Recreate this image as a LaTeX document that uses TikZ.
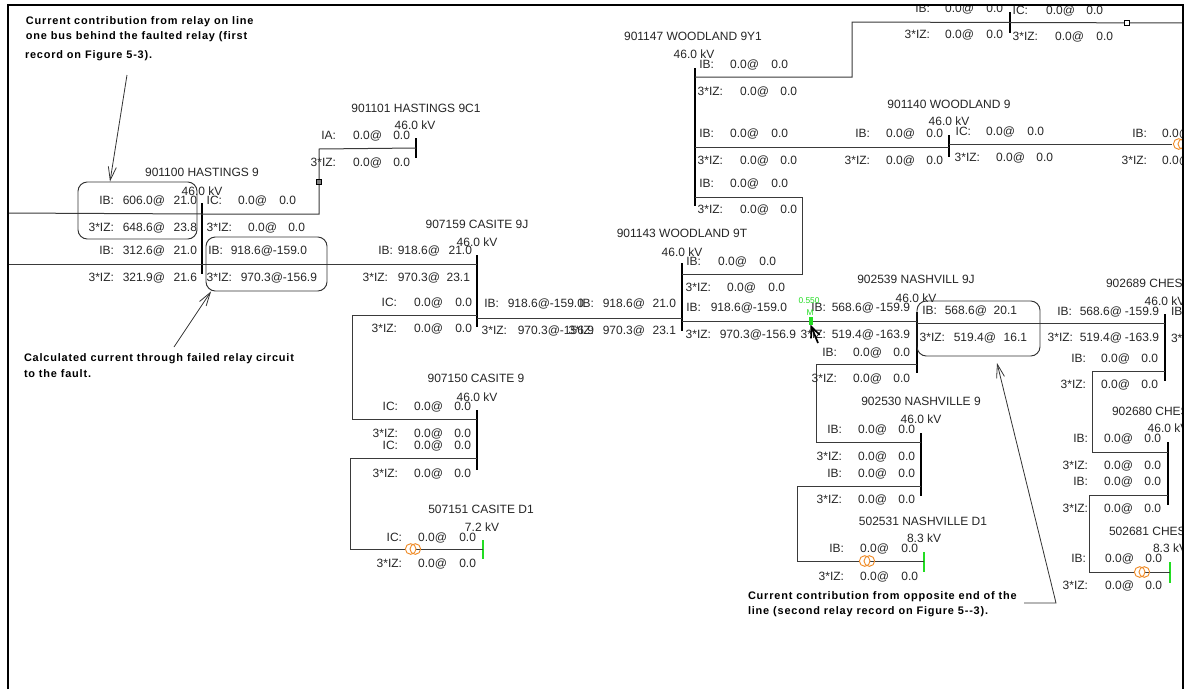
\documentclass[tikz,border=0pt]{standalone}
\usepackage{fontspec}
\setmainfont{Liberation Sans}
\newfontfamily\notefont[LetterSpace=7.5]{Liberation Sans Bold}
\usetikzlibrary{arrows.meta}
\definecolor{ink}{HTML}{262626}
\definecolor{wirec}{HTML}{3A3A3A}
\definecolor{xfo}{HTML}{F08C28}
\definecolor{gbus}{HTML}{22DD22}
\newcount\rn
\tikzset{
 x=0.75pt,y=-0.75pt,
 txt/.style={inner sep=0pt,outer sep=0pt,text=ink,font=\fontsize{9}{10}\selectfont},
 note/.style={inner sep=0pt,outer sep=0pt,anchor=base west,text=black,font=\notefont\fontsize{8.2}{9}\selectfont},
 wire/.style={draw=wirec,line width=0.75pt},
 busbar/.style={draw=none,fill=black,inner sep=0pt,outer sep=0pt,minimum width=1.9pt},
 gbar/.style={draw=none,fill=gbus,inner sep=0pt,outer sep=0pt,minimum width=1pt},
 callout/.style={draw=black!80,line width=0.7pt,rounded corners=7pt},
 pointer/.style={draw=black!80,line width=0.6pt,-{Straight Barb[length=10pt,width=6pt]}},
 xring/.style={draw=xfo,fill=white,line width=0.7pt,circle,inner sep=0pt,minimum size=8pt},
 square/.style={draw=black,fill=white,line width=0.6pt,inner sep=0pt,minimum size=3.6pt},
}
\newcommand\Row[7]{%
 \global\advance\rn by 1
 \node[txt,anchor=base east,name=r\the\rn a] at (#1,{#4+4.3}) {#5};
 \node[txt,anchor=base east,name=r\the\rn b] at (#2,{#4+4.3}) {#6};
 \node[txt,anchor=base east,name=r\the\rn c] at (#3,{#4+4.3}) {#7};}
\newcommand\Ttl[4]{\node[txt,anchor=base,name=#1] at (#2,{#3+4.3}) {#4};}
\newcommand\TtlL[4]{\node[txt,anchor=base west,name=#1] at (#2,{#3+4.3}) {#4};}
\newcommand\Bus[4]{\node[busbar,minimum height={(#4-#3)*0.75pt},name=#1] at (#2,{(#3+#4)/2}) {};}
\newcommand\GBus[4]{\node[gbar,minimum height={(#4-#3)*0.75pt},name=#1] at (#2,{(#3+#4)/2}) {};}
\newcommand\Xfo[3]{\node[xring,name=#1a] at ({#2-2.3},#3) {};\node[xring,fill=none,name=#1b] at ({#2+2.3},#3) {};}
\begin{document}
\begin{tikzpicture}
\useasboundingbox (0,0) rectangle (1184,689);
\fill[white] (0,0) rectangle (1184,689);
\begin{scope}
\clip (8,6) rectangle (1183,689);
% free ends
\coordinate (L1) at (8,213);
\coordinate (L2) at (8,264);
\coordinate (R1) at (1184,23);
% buses
\Bus{b100}{202}{203}{274}
\Bus{b101}{416}{138}{158}
\Bus{b159}{477}{255}{327}
\Bus{b150}{477}{410}{470}
\GBus{b151}{483}{540}{559}
\Bus{b147}{695}{68}{206}
\Bus{b143}{682}{263}{331}
\Bus{btop}{1010}{12}{33}
\Bus{b140}{949}{135}{157}
\Bus{b539}{917}{312}{373}
\Bus{b530}{921}{433}{496}
\GBus{b531}{924}{552}{572}
\Bus{b689}{1165}{314}{381}
\Bus{b680}{1168}{442}{505}
\GBus{b681}{1170}{562}{583}
% wires
\draw[wire] (L1) -- (202,214) -- (319,214) -- (319,149) -- (b101.center);
\draw[wire] (L2) -- (b159.center |- L2);
\draw[wire] (b159.center |- 0,315) -- (352,315) -- (352,419) -- (b150.center |- 0,419);
\draw[wire] (b150.center |- 0,458) -- (350,458) -- (350,549) -- (b151.center |- 0,549);
\draw[wire] (b159.center |- 0,318) -- (b143.center |- 0,318);
\draw[wire] (b143.center |- 0,321) -- (b539.center |- 0,321);
\draw[wire] (b143.center |- 0,274) -- (802,274) -- (802,197) -- (b147.center |- 0,197);
\draw[wire] (b147.center |- 0,77) -- (852,77) -- (852,22) -- (btop.center);
\draw[wire] (btop.center) -- (R1);
\draw[wire] (b147.center |- 0,147) -- (b140.center |- 0,147);
\draw[wire] (b140.center |- 0,144) -- (1172,144);
\draw[wire] (b539.center |- 0,323) -- (b689.center |- 0,323);
\draw[wire] (b539.center |- 0,364) -- (816,364) -- (816,442) -- (b530.center |- 0,442);
\draw[wire] (b530.center |- 0,486) -- (797,486) -- (797,561) -- (b531.center |- 0,561);
\draw[wire] (b689.center |- 0,371) -- (1092,371) -- (1092,452) -- (b680.center |- 0,452);
\draw[wire] (b680.center |- 0,495) -- (1089,495) -- (1089,572) -- (b681.center |- 0,572);
% small devices
\node[square,fill=black!50,name=s1] at (319,182) {};
\node[square,name=s2] at (1127,23) {};
\Xfo{x1}{413}{549}
\Xfo{x2}{867}{561}
\Xfo{x3}{1142}{572}
\Xfo{x4}{1181}{144}
% titles
\Ttl{t100}{202}{172}{901100 HASTINGS 9}
\Ttl{k100}{202}{191}{46.0 kV}
\Ttl{t101}{416}{108}{901101 HASTINGS 9C1}
\Ttl{k101}{415}{125}{46.0 kV}
\Ttl{t159}{477}{224}{907159 CASITE 9J}
\Ttl{k159}{477}{242}{46.0 kV}
\Ttl{t150}{476}{378}{907150 CASITE 9}
\Ttl{k150}{477}{397}{46.0 kV}
\Ttl{t151}{481}{509}{507151 CASITE D1}
\Ttl{k151}{482}{527}{7.2 kV}
\Ttl{t147}{693}{36}{901147 WOODLAND 9Y1}
\Ttl{k147}{694}{54}{46.0 kV}
\Ttl{t140}{949}{104}{901140 WOODLAND 9}
\Ttl{k140}{949}{121}{46.0 kV}
\Ttl{t143}{682}{233}{901143 WOODLAND 9T}
\Ttl{k143}{682}{252}{46.0 kV}
\Ttl{t539}{916}{279}{902539 NASHVILL 9J}
\Ttl{k539}{916}{298}{46.0 kV}
\Ttl{t530}{921}{401}{902530 NASHVILLE 9}
\Ttl{k530}{921}{419}{46.0 kV}
\Ttl{t531}{923}{521}{502531 NASHVILLE D1}
\Ttl{k531}{924}{538}{8.3 kV}
\TtlL{t689}{1106}{283}{902689 CHES}
\Ttl{k689}{1165}{301}{46.0 kV}
\TtlL{t680}{1112}{411}{902680 CHES}
\Ttl{k680}{1168}{428}{46.0 kV}
\TtlL{t681}{1109}{531}{502681 CHES}
\Ttl{k681}{1170}{548}{8.3 kV}
% rows
\Row{114}{165}{197}{200}{IB:}{606.0@}{21.0}
\Row{114}{165}{197}{227}{3*IZ:}{648.6@}{23.8}
\Row{114}{165}{197}{250}{IB:}{312.6@}{21.0}
\Row{114}{165}{197}{277}{3*IZ:}{321.9@}{21.6}
\Row{222}{267}{296}{200}{IC:}{0.0@}{0.0}
\Row{232}{277}{305}{227}{3*IZ:}{0.0@}{0.0}
\Row{223}{273}{307}{250}{IB:}{918.6@}{-159.0}
\Row{232}{283}{317}{277}{3*IZ:}{970.3@}{-156.9}
\Row{336}{382}{410}{135}{IA:}{0.0@}{0.0}
\Row{336}{382}{410}{162}{3*IZ:}{0.0@}{0.0}
\Row{393}{440}{472}{250}{IB:}{918.6@}{21.0}
\Row{388}{440}{470}{277}{3*IZ:}{970.3@}{23.1}
\Row{397}{443}{472}{302}{IC:}{0.0@}{0.0}
\Row{397}{443}{472}{328}{3*IZ:}{0.0@}{0.0}
\Row{398}{443}{471}{406}{IC:}{0.0@}{0.0}
\Row{398}{443}{471}{433}{3*IZ:}{0.0@}{0.0}
\Row{398}{443}{471}{445}{IC:}{0.0@}{0.0}
\Row{398}{443}{471}{473}{3*IZ:}{0.0@}{0.0}
\Row{402}{447}{476}{537}{IC:}{0.0@}{0.0}
\Row{402}{447}{476}{563}{3*IZ:}{0.0@}{0.0}
\Row{499}{550}{584}{303}{IB:}{918.6@}{-159.0}
\Row{507}{560}{594}{330}{3*IZ:}{970.3@}{-156.9}
\Row{594}{645}{676}{303}{IB:}{918.6@}{21.0}
\Row{594}{645}{676}{330}{3*IZ:}{970.3@}{23.1}
\Row{714}{759}{788}{64}{IB:}{0.0@}{0.0}
\Row{723}{769}{797}{91}{3*IZ:}{0.0@}{0.0}
\Row{714}{759}{788}{133}{IB:}{0.0@}{0.0}
\Row{723}{769}{797}{160}{3*IZ:}{0.0@}{0.0}
\Row{714}{759}{788}{183}{IB:}{0.0@}{0.0}
\Row{723}{769}{797}{209}{3*IZ:}{0.0@}{0.0}
\Row{701}{747}{776}{261}{IB:}{0.0@}{0.0}
\Row{711}{756}{785}{287}{3*IZ:}{0.0@}{0.0}
\Row{701}{753}{787}{307}{IB:}{918.6@}{-159.0}
\Row{711}{762}{796}{334}{3*IZ:}{970.3@}{-156.9}
\Row{930}{974}{1003}{8}{IB:}{0.0@}{0.0}
\Row{930}{974}{1003}{34}{3*IZ:}{0.0@}{0.0}
\Row{1028}{1075}{1103}{10}{IC:}{0.0@}{0.0}
\Row{1038}{1084}{1113}{36}{3*IZ:}{0.0@}{0.0}
\Row{870}{915}{943}{133}{IB:}{0.0@}{0.0}
\Row{870}{915}{943}{160}{3*IZ:}{0.0@}{0.0}
\Row{971}{1015}{1044}{131}{IC:}{0.0@}{0.0}
\Row{980}{1025}{1053}{157}{3*IZ:}{0.0@}{0.0}
\Row{1147}{1191}{1220}{133}{IB:}{0.0@}{}
\Row{1147}{1191}{1220}{160}{3*IZ:}{0.0@}{}
\Row{826}{874}{910}{307}{IB:}{568.6@}{-159.9}
\Row{826}{874}{910}{334}{3*IZ:}{519.4@}{-163.9}
\Row{837}{882}{910}{352}{IB:}{0.0@}{0.0}
\Row{837}{882}{910}{378}{3*IZ:}{0.0@}{0.0}
\Row{937}{987}{1017}{310}{IB:}{568.6@}{20.1}
\Row{945}{996}{1027}{337}{3*IZ:}{519.4@}{16.1}
\Row{842}{887}{915}{429}{IB:}{0.0@}{0.0}
\Row{842}{887}{915}{456}{3*IZ:}{0.0@}{0.0}
\Row{842}{887}{915}{473}{IB:}{0.0@}{0.0}
\Row{842}{887}{915}{499}{3*IZ:}{0.0@}{0.0}
\Row{844}{889}{918}{548}{IB:}{0.0@}{0.0}
\Row{844}{889}{918}{576}{3*IZ:}{0.0@}{0.0}
\Row{1072}{1122}{1159}{311}{IB:}{568.6@}{-159.9}
\Row{1073}{1122}{1159}{337}{3*IZ:}{519.4@}{-163.9}
\Row{1086}{1130}{1158}{358}{IB:}{0.0@}{0.0}
\Row{1086}{1130}{1158}{384}{3*IZ:}{0.0@}{0.0}
\Row{1088}{1133}{1161}{438}{IB:}{0.0@}{0.0}
\Row{1088}{1133}{1161}{465}{3*IZ:}{0.0@}{0.0}
\Row{1088}{1133}{1161}{481}{IB:}{0.0@}{0.0}
\Row{1088}{1133}{1161}{508}{3*IZ:}{0.0@}{0.0}
\Row{1086}{1134}{1162}{558}{IB:}{0.0@}{0.0}
\Row{1088}{1134}{1162}{585}{3*IZ:}{0.0@}{0.0}
\TtlL{c1}{1171}{311}{IB:}
\TtlL{c2}{1171}{338}{3*IZ:}
% callout boxes
\node[callout,minimum width=89.25pt,minimum height=42.75pt,inner sep=0pt,name=box1] at (137.5,210.5) {};
\node[callout,minimum width=90.75pt,minimum height=40.5pt,inner sep=0pt,name=box2] at (266.5,264) {};
\node[callout,minimum width=92.25pt,minimum height=41.25pt,inner sep=0pt,name=box3] at (978.5,328.5) {};
% fault marker
\node[inner sep=0pt,text=gbus,font=\fontsize{6.3}{7}\selectfont,name=f1] at (809,301) {0.550};
\node[inner sep=0pt,text=gbus,font=\fontsize{6.3}{7}\selectfont,name=f2] at (810,312.5) {M};
\node[fill=gbus,inner sep=0pt,minimum width=3pt,minimum height=6pt,name=f3] at (810.5,320.5) {};
\coordinate (f4) at (818,343);
\draw[line width=1.3pt,black,-{Straight Barb[length=8pt,width=7pt]}] (f4) -- (f3.south);
% notes
\node[note,name=n1] at (26,24) {Current contribution from relay on line};
\node[note,name=n2] at (26,39) {one bus behind the faulted relay (first};
\node[note,name=n3] at (25,58) {record on Figure 5-3).};
\node[note,name=n4] at (24,361) {Calculated current through failed relay circuit};
\node[note,name=n5] at (24,377) {to the fault.};
\node[note,name=n6] at (748,599) {Current contribution from opposite end of the};
\node[note,name=n7] at (748,614) {line (second relay record on Figure 5--3).};
% pointers
\coordinate (p1) at (127,75);
\draw[pointer] (p1) -- (box1.north west -| 110,175);
\coordinate (p2) at (174,347);
\draw[pointer] (p2) -- (box2.south west -| 211,298);
\coordinate (p3) at (1024,603);
\draw[pointer] (p3) -- (1056,603) -- (997,363);
\end{scope}
% frame
\coordinate (fa) at (8,689);
\coordinate (fb) at (8,5);
\coordinate (fc) at (1183,5);
\coordinate (fd) at (1183,689);
\draw[black,line width=1.5pt] (fa) -- (fb) -- (fc) -- (fd);
\end{tikzpicture}
\end{document}
